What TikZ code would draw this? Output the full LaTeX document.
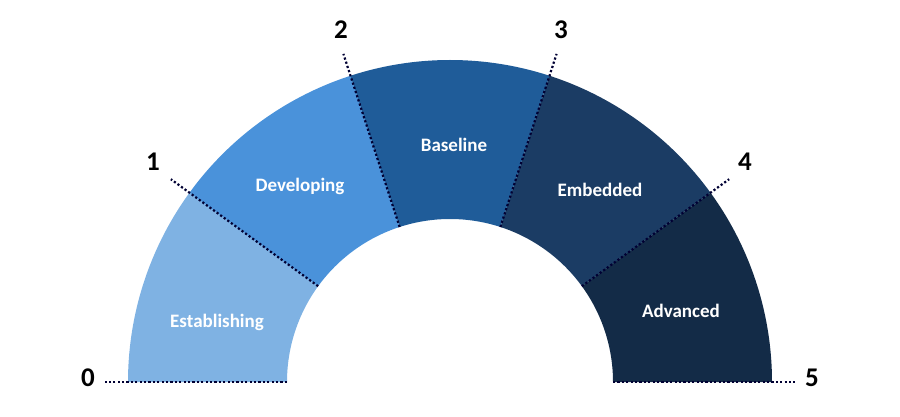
\documentclass[tikz,border=0pt]{standalone}
\usepackage{fontspec}
\setmainfont{Carlito}
\begin{document}
\begin{tikzpicture}[x=1pt,y=-1pt,
  seg/.style={draw=white,line width=0.5pt},
  lbl/.style={text=white,font=\bfseries\fontsize{19}{22}\selectfont},
  num/.style={text=black,font=\bfseries\fontsize{27}{30}\selectfont},
  tick/.style={draw=black!80!blue,line width=2.2pt,dash pattern=on 2.2pt off 2.2pt}]
\useasboundingbox (0,0) rectangle (900,417);
\def\cx{450}\def\cy{382}\def\ro{322}\def\ri{163}
\definecolor{c1}{HTML}{7FB2E3}
\definecolor{c2}{HTML}{4A92DA}
\definecolor{c3}{HTML}{1F5C99}
\definecolor{c4}{HTML}{1B3C64}
\definecolor{c5}{HTML}{132B47}
\foreach \i/\c in {0/c1,1/c2,2/c3,3/c4,4/c5}{
  \pgfmathsetmacro\a{180-36*\i}
  \pgfmathsetmacro\b{144-36*\i}
  \fill[\c] ({\cx+\ro*cos(\a)},{\cy-\ro*sin(\a)}) arc[start angle=-\a,end angle=-\b,radius=\ro]
     -- ({\cx+\ri*cos(\b)},{\cy-\ri*sin(\b)}) arc[start angle=-\b,end angle=-\a,radius=\ri] -- cycle;
}
\foreach \i in {0,...,5}{
  \pgfmathsetmacro\a{180-36*\i}
  \draw[tick] ({\cx+\ri*cos(\a)},{\cy-\ri*sin(\a)}) -- ({\cx+345*cos(\a)},{\cy-345*sin(\a)});
}
\node[lbl] (l1) at (217,322) {Establishing};
\node[lbl] (l2) at (300,186) {Developing};
\node[lbl] (l3) at (454,145) {Baseline};
\node[lbl] (l4) at (600,190) {Embedded};
\node[lbl] (l5) at (681,311) {Advanced};
\node[num] (n0) at (88,378) {0};
\node[num] (n1) at (153,162) {1};
\node[num] (n2) at (341,30) {2};
\node[num] (n3) at (561,30) {3};
\node[num] (n4) at (745,162) {4};
\node[num] (n5) at (812,378) {5};
\end{tikzpicture}
\end{document}
